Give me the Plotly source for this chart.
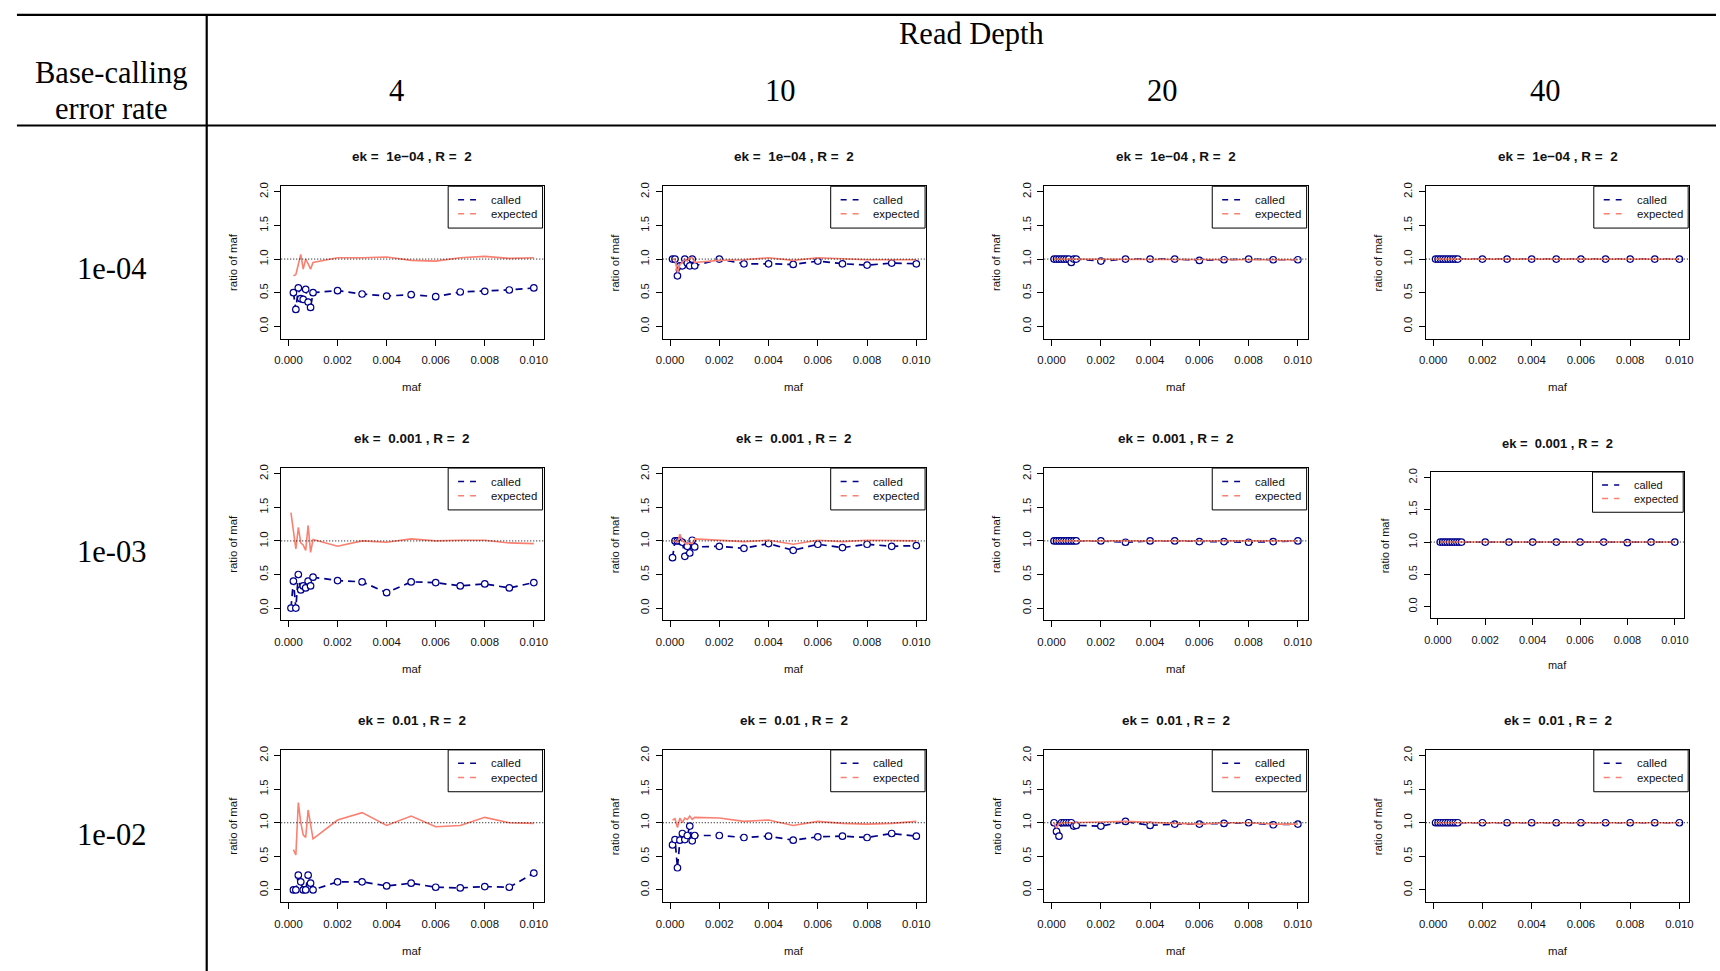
import plotly.graph_objects as go

W, H = 1720, 971

# ---- data -------------------------------------------------------------
MAF = [0.0001, 0.0002, 0.0003, 0.0004, 0.0005, 0.0006, 0.0007, 0.0008, 0.0009,
       0.001, 0.002, 0.003, 0.004, 0.005, 0.006, 0.007, 0.008, 0.009, 0.01]

DEPTHS = ["4", "10", "20", "40"]
ERROR_RATES = ["1e-04", "1e-03", "1e-02"]
EK_LABELS = ["1e\u221204", "0.001", "0.01"]
R_VALUE = "2"
REF_LEVEL = 1.0

X_TICKS = [0.0, 0.002, 0.004, 0.006, 0.008, 0.010]
Y_TICKS = [0.0, 0.5, 1.0, 1.5, 2.0]

# ek = 1e-04
called_e4_d4 = [None, 0.50, 0.25, 0.57, 0.41, 0.40, 0.55, 0.36, 0.28, 0.50,
                0.53, 0.48, 0.45, 0.47, 0.44, 0.51, 0.52, 0.54, 0.57]
expected_e4_d4 = [None, 0.75, 0.77, 0.92, 1.07, 0.85, 1.00, 0.93, 0.85, 0.95,
                  1.02, 1.02, 1.03, 0.98, 0.97, 1.02, 1.04, 1.01, 1.02]
called_e4_d10 = [1.00, 1.00, 0.75, 0.90, 0.90, 1.00, 0.94, 0.90, 1.00, 0.90,
                 1.00, 0.93, 0.93, 0.92, 0.97, 0.93, 0.91, 0.94, 0.93]
expected_e4_d10 = [1.00, 1.00, 0.80, 0.92, 0.95, 1.00, 0.97, 1.02, 1.02, 0.95,
                   0.98, 0.99, 1.02, 0.98, 1.02, 1.00, 0.99, 0.99, 0.99]
called_e4_d20 = [1.00, 1.00, 1.00, 1.00, 1.00, 1.00, 1.00, 0.95, 1.00, 1.00,
                 0.97, 1.00, 1.00, 1.00, 0.98, 0.99, 1.00, 0.99, 0.99]
expected_e4_d20 = [1.00, 1.00, 1.00, 1.00, 1.00, 1.00, 1.00, 0.99, 1.00, 1.00,
                   0.99, 1.00, 1.00, 1.00, 0.99, 1.00, 1.00, 0.99, 0.99]
called_e4_d40 = [1.00, 1.00, 1.00, 1.00, 1.00, 1.00, 1.00, 1.00, 1.00, 1.00,
                 1.00, 1.00, 1.00, 1.00, 1.00, 1.00, 1.00, 1.00, 1.00]
expected_e4_d40 = [1.00, 1.00, 1.00, 1.00, 1.00, 1.00, 1.00, 1.00, 1.00, 1.00,
                   1.00, 1.00, 1.00, 1.00, 1.00, 1.00, 1.00, 1.00, 1.00]

# ek = 0.001
called_e3_d4 = [0.00, 0.40, 0.00, 0.50, 0.27, 0.33, 0.30, 0.40, 0.33, 0.46,
                0.41, 0.39, 0.23, 0.39, 0.38, 0.33, 0.36, 0.30, 0.38]
expected_e3_d4 = [1.42, 1.12, 0.88, 1.20, 0.97, 0.94, 0.86, 1.23, 0.83, 1.02,
                  0.92, 1.00, 0.98, 1.03, 1.00, 1.01, 1.01, 0.97, 0.96]
called_e3_d10 = [0.75, 1.00, 1.00, 1.00, 0.98, 0.77, 0.92, 0.82, 1.01, 0.91,
                 0.92, 0.89, 0.96, 0.86, 0.95, 0.90, 0.95, 0.92, 0.93]
expected_e3_d10 = [1.00, 1.00, 0.98, 1.10, 1.00, 0.98, 0.95, 0.97, 0.96, 1.03,
                   1.01, 0.99, 1.01, 0.95, 1.01, 0.99, 1.01, 1.00, 1.00]
called_e3_d20 = [1.00, 1.00, 1.00, 1.00, 1.00, 1.00, 1.00, 1.00, 1.00, 1.00,
                 1.00, 0.98, 1.00, 1.00, 0.99, 0.99, 0.98, 0.99, 1.00]
expected_e3_d20 = [1.00, 1.00, 1.00, 1.00, 1.00, 1.00, 1.00, 1.00, 1.00, 1.00,
                   1.00, 0.99, 1.00, 1.00, 1.00, 1.00, 0.99, 0.99, 1.00]
called_e3_d40 = [1.00, 1.00, 1.00, 1.00, 1.00, 1.00, 1.00, 1.00, 1.00, 1.00,
                 1.00, 1.00, 1.00, 1.00, 1.00, 1.00, 0.99, 1.00, 1.00]
expected_e3_d40 = [1.00, 1.00, 1.00, 1.00, 1.00, 1.00, 1.00, 1.00, 1.00, 1.00,
                   1.00, 1.00, 1.00, 1.00, 1.00, 1.00, 1.00, 1.00, 1.00]

# ek = 0.01
called_e2_d4 = [None, 0.00, 0.00, 0.22, 0.12, 0.00, 0.00, 0.22, 0.10, 0.00,
                0.12, 0.12, 0.06, 0.10, 0.04, 0.03, 0.05, 0.04, 0.25]
expected_e2_d4 = [None, 0.60, 0.52, 1.30, 1.00, 0.82, 0.78, 1.19, 1.00, 0.76,
                  1.04, 1.15, 0.96, 1.10, 0.94, 0.96, 1.08, 1.00, 0.99]
called_e2_d10 = [0.67, 0.75, 0.33, 0.74, 0.84, 0.75, 0.81, 0.95, 0.73, 0.81,
                 0.81, 0.78, 0.80, 0.74, 0.79, 0.80, 0.78, 0.84, 0.80]
expected_e2_d10 = [1.04, 1.06, 0.93, 1.07, 1.00, 1.07, 1.05, 1.10, 1.05, 1.08,
                   1.07, 1.02, 1.04, 0.96, 1.02, 0.99, 0.98, 0.99, 1.02]
called_e2_d20 = [1.00, 0.87, 0.80, 1.00, 1.00, 1.00, 1.00, 1.00, 0.95, 0.96,
                 0.95, 1.02, 0.96, 0.98, 0.98, 0.99, 1.00, 0.97, 0.98]
expected_e2_d20 = [1.00, 0.92, 0.99, 1.00, 1.00, 1.00, 1.00, 1.00, 1.00, 1.00,
                   1.01, 1.02, 1.00, 0.99, 0.98, 1.00, 1.00, 0.98, 0.98]
called_e2_d40 = [1.00, 1.00, 1.00, 1.00, 1.00, 1.00, 1.00, 1.00, 1.00, 1.00,
                 1.00, 1.00, 1.00, 1.00, 1.00, 1.00, 1.00, 1.00, 1.00]
expected_e2_d40 = [1.00, 1.00, 1.00, 1.00, 1.00, 1.00, 1.00, 1.00, 1.00, 1.00,
                   1.00, 1.00, 1.00, 1.00, 1.00, 1.00, 1.00, 1.00, 1.00]

CALLED = [[called_e4_d4, called_e4_d10, called_e4_d20, called_e4_d40],
          [called_e3_d4, called_e3_d10, called_e3_d20, called_e3_d40],
          [called_e2_d4, called_e2_d10, called_e2_d20, called_e2_d40]]
EXPECTED = [[expected_e4_d4, expected_e4_d10, expected_e4_d20, expected_e4_d40],
            [expected_e3_d4, expected_e3_d10, expected_e3_d20, expected_e3_d40],
            [expected_e2_d4, expected_e2_d10, expected_e2_d20, expected_e2_d40]]

# ---- styling ----------------------------------------------------------
CALLED_COLOR = "#00008B"
EXPECTED_COLOR = "#FA8072"
SANS = "Liberation Sans, Arial, sans-serif"
SERIF = "Liberation Serif, Times New Roman, serif"
X_RANGE = [-0.000296, 0.010396]
Y_RANGE = [-0.184, 2.084]

# plot boxes in pixels: left, right, top, bottom
COL_X = [(276, 540), (660, 925), (1044, 1309), (1428, 1693)]
ROW_Y = [(183, 336), (466, 619), (749, 902)]
BOX_OVERRIDE = {(1, 3): (1433, 1688, 470, 617)}


def px(x):
    return x / W


def py(y):
    return 1 - y / H


fig = go.Figure()
shapes = []
annotations = []
layout_axes = {}

for r in range(3):
    for c in range(4):
        idx = r * 4 + c + 1
        sfx = "" if idx == 1 else str(idx)
        left, right = COL_X[c]
        top, bottom = ROW_Y[r]
        if (r, c) in BOX_OVERRIDE:
            left, right, top, bottom = BOX_OVERRIDE[(r, c)]
        s = (bottom - top) / 153.0
        tick_fs = 11.4 * s

        layout_axes[f"xaxis{sfx}"] = dict(
            domain=[px(left), px(right)], anchor=f"y{sfx}", range=X_RANGE,
            tickvals=X_TICKS, tickformat=".3f", ticks="outside", ticklen=6,
            tickcolor="black", tickwidth=1, showline=True, mirror=True,
            linecolor="black", linewidth=1, showgrid=False, zeroline=False,
            tickfont=dict(family=SANS, size=tick_fs, color="#111"),
            ticklabelstandoff=5,
        )
        layout_axes[f"yaxis{sfx}"] = dict(
            domain=[py(bottom), py(top)], anchor=f"x{sfx}", range=Y_RANGE,
            tickvals=Y_TICKS, tickformat=".1f", ticks="outside", ticklen=6,
            tickcolor="black", tickwidth=1, showline=True, mirror=True,
            linecolor="black", linewidth=1, showgrid=False, zeroline=False,
            tickangle=-90, tickfont=dict(family=SANS, size=tick_fs, color="#111"),
            ticklabelstandoff=2,
        )

        fig.add_trace(go.Scatter(
            x=MAF, y=CALLED[r][c], mode="lines+markers", name="called",
            xaxis=f"x{sfx}", yaxis=f"y{sfx}", showlegend=False,
            line=dict(color=CALLED_COLOR, width=1.7, dash="7px,5px"),
            marker=dict(symbol="circle", size=6.5, color="white",
                        line=dict(color=CALLED_COLOR, width=1.2)),
        ))
        fig.add_trace(go.Scatter(
            x=MAF, y=EXPECTED[r][c], mode="lines", name="expected",
            xaxis=f"x{sfx}", yaxis=f"y{sfx}", showlegend=False,
            line=dict(color=EXPECTED_COLOR, width=1.6),
        ))

        # reference line at ratio = 1
        shapes.append(dict(type="line", xref=f"x{sfx} domain", x0=0, x1=1,
                           yref=f"y{sfx}", y0=REF_LEVEL, y1=REF_LEVEL,
                           line=dict(color="black", width=1, dash="1px,2px")))

        # legend box
        lw, lh = 95 * s, 42 * s
        lx0, ly0 = right - 1 - lw, top
        shapes.append(dict(type="rect", xref="paper", yref="paper",
                           x0=px(lx0), x1=px(right - 1), y0=py(ly0 + lh), y1=py(ly0),
                           line=dict(color="black", width=1), fillcolor="white",
                           layer="above"))
        for k, (lab, col) in enumerate([("called", CALLED_COLOR),
                                        ("expected", EXPECTED_COLOR)]):
            yy = ly0 + (13.5 + 14.2 * k) * s
            shapes.append(dict(type="line", xref="paper", yref="paper",
                               x0=px(lx0 + 10 * s), x1=px(lx0 + 28 * s),
                               y0=py(yy), y1=py(yy), layer="above",
                               line=dict(color=col, width=1.5, dash="6px,6px")))
            annotations.append(dict(text=lab, x=px(lx0 + 41 * s), y=py(yy),
                                    xref="paper", yref="paper", xanchor="left",
                                    yanchor="middle", showarrow=False,
                                    font=dict(family=SANS, size=11.4 * s, color="#111")))

        cx = (left + right) / 2
        cy = (top + bottom) / 2
        title = f"ek = \u00a0{EK_LABELS[r]} , R = \u00a0{R_VALUE}"
        annotations.append(dict(text=f"<b>{title}</b>", x=px(cx), y=py(top - 29.5 * s),
                                xref="paper", yref="paper", xanchor="center",
                                yanchor="middle", showarrow=False,
                                font=dict(family=SANS, size=13.5 * s, color="#111")))
        annotations.append(dict(text="ratio of maf", x=px(left - 48 * s), y=py(cy),
                                xref="paper", yref="paper", xanchor="center",
                                yanchor="middle", showarrow=False, textangle=-90,
                                font=dict(family=SANS, size=11.4 * s, color="#111")))
        annotations.append(dict(text="maf", x=px(cx), y=py(bottom + 49 * s),
                                xref="paper", yref="paper", xanchor="center",
                                yanchor="middle", showarrow=False,
                                font=dict(family=SANS, size=11.4 * s, color="#111")))

# ---- table frame and headers -------------------------------------------
for y in (11, 122):
    shapes.append(dict(type="line", xref="paper", yref="paper",
                       x0=px(10), x1=1, y0=py(y), y1=py(y),
                       line=dict(color="black", width=2.2)))
shapes.append(dict(type="line", xref="paper", yref="paper",
                   x0=px(201), x1=px(201), y0=py(11), y1=0,
                   line=dict(color="black", width=2.2)))

HEADER_FS = 30.5
annotations.append(dict(text="Read Depth", x=px(971), y=py(30), xref="paper", yref="paper",
                        showarrow=False, xanchor="center", yanchor="middle",
                        font=dict(family=SERIF, size=HEADER_FS, color="black")))
for c, dx in enumerate([392, 778, 1163, 1548]):
    annotations.append(dict(text=DEPTHS[c], x=px(dx), y=py(87), xref="paper",
                            yref="paper", showarrow=False, xanchor="center",
                            yanchor="middle",
                            font=dict(family=SERIF, size=HEADER_FS, color="black")))
annotations.append(dict(text="Base-calling", x=px(105), y=py(69), xref="paper",
                        yref="paper", showarrow=False, xanchor="center", yanchor="middle",
                        font=dict(family=SERIF, size=HEADER_FS, color="black")))
annotations.append(dict(text="error rate", x=px(105), y=py(105), xref="paper",
                        yref="paper", showarrow=False, xanchor="center", yanchor="middle",
                        font=dict(family=SERIF, size=HEADER_FS, color="black")))
for r, ry in enumerate([266, 550, 834]):
    annotations.append(dict(text=ERROR_RATES[r], x=px(105), y=py(ry), xref="paper",
                            yref="paper", showarrow=False, xanchor="center",
                            yanchor="middle",
                            font=dict(family=SERIF, size=HEADER_FS, color="black")))

fig.update_layout(
    width=W, height=H, margin=dict(l=0, r=0, t=0, b=0),
    paper_bgcolor="white", plot_bgcolor="white", showlegend=False,
    shapes=shapes, annotations=annotations, **layout_axes,
)

fig.write_html("out.html")
